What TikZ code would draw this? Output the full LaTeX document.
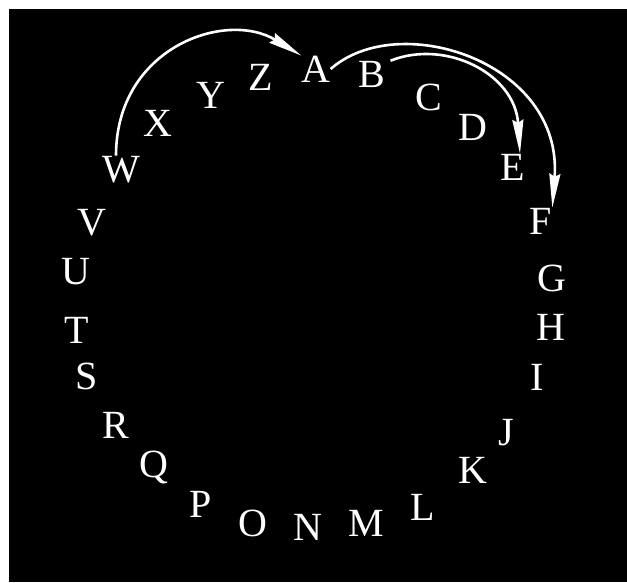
\documentclass[tikz,border=0pt]{standalone}
\usepackage{fontspec}
\setmainfont{Liberation Serif}
\usepackage{tikz}
\usetikzlibrary{arrows.meta}

\begin{document}
\begin{tikzpicture}[
x=1pt, y=1pt,
font=\fontsize{40}{42}\selectfont,
letter/.style={text=white, inner sep=0pt, text depth=0pt, anchor=center},
arr/.style={-{Stealth[length=34pt, width=11pt, inset=3pt]}, line width=2.6pt, draw=white}
]
\useasboundingbox (0,0) rectangle (627,582);
\fill[black] (9,0) rectangle (627,573);

\node[letter] (A) at (316,513) {A};
\node[letter] (B) at (372,508) {B};
\node[letter] (C) at (429,485) {C};
\node[letter] (D) at (473,455) {D};
\node[letter] (E) at (513,415) {E};
\node[letter] (F) at (541,361) {F};
\node[letter] (G) at (552,304) {G};
\node[letter] (H) at (551,255) {H};
\node[letter] (I) at (537,205) {I};
\node[letter] (J) at (506,150) {J};
\node[letter] (K) at (473,112) {K};
\node[letter] (L) at (423,75) {L};
\node[letter] (M) at (366,59) {M};
\node[letter] (N) at (308,55) {N};
\node[letter] (O) at (253,59) {O};
\node[letter] (P) at (201,78) {P};
\node[letter] (Q) at (154,118) {Q};
\node[letter] (R) at (116,157) {R};
\node[letter] (S) at (87,206) {S};
\node[letter] (T) at (77,252) {T};
\node[letter] (U) at (76,311) {U};
\node[letter] (V) at (92,360) {V};
\node[letter] (W) at (121,413) {W};
\node[letter] (X) at (158,459) {X};
\node[letter] (Y) at (211,487) {Y};
\node[letter] (Z) at (261,505) {Z};

\draw[arr] ([xshift=-5pt]W.north) .. controls +(0,108) and +(-76,46) .. (A.north west);
\draw[arr] (A.east) .. controls +(68,60) and +(11,146) .. (F.north east);
\draw[arr] ([xshift=5pt]B.north east) .. controls +(55,22) and +(-5,80) .. ([xshift=7pt]E.north);
\end{tikzpicture}
\end{document}
